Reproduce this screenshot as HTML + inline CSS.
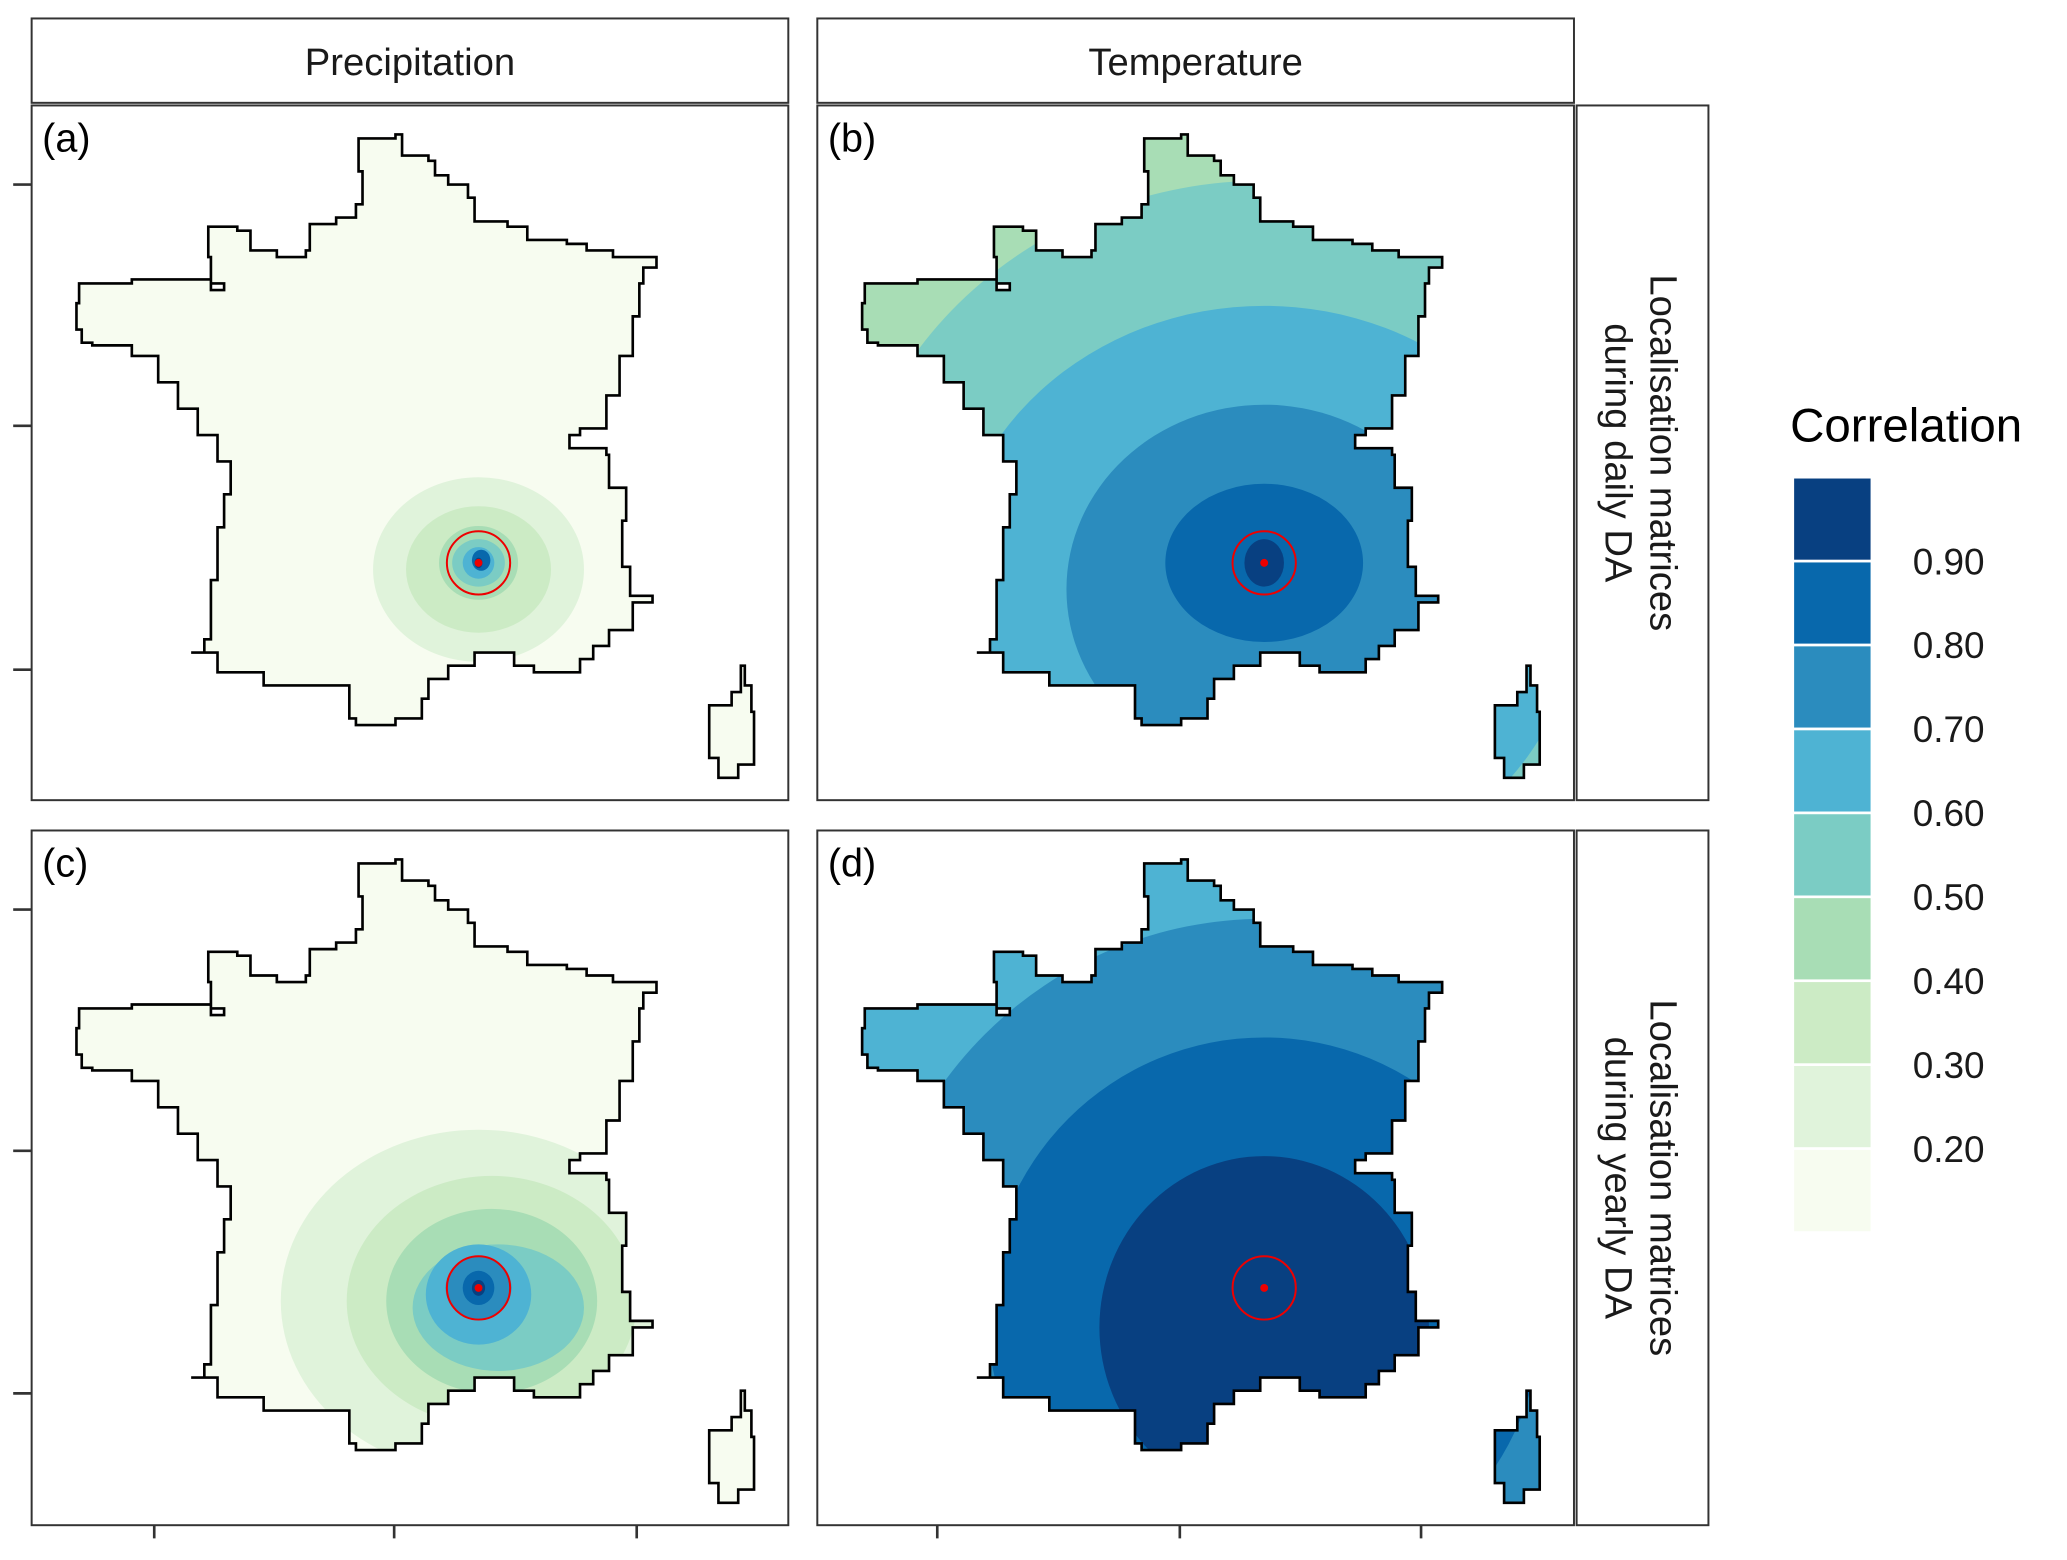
<!DOCTYPE html>
<html><head><meta charset="utf-8"><style>
html,body{margin:0;padding:0;background:#fff;overflow:hidden;width:2067px;height:1560px}
svg{display:block;font-family:"Liberation Sans",Arial,sans-serif}
</style></head><body>
<svg id="fig" width="2067" height="1560" viewBox="0 0 1568 1183.4" xmlns="http://www.w3.org/2000/svg">
<defs>
<clipPath id="fr"><path id="frpath" d=""/></clipPath>
</defs>
<g id="root"></g>
</svg>
<script>
// Colour scale (GnBu, 9 bins) and legend labels
const binColors = ["#f7fcf0","#e0f3db","#ccebc5","#a8ddb5","#7bccc4","#4eb3d3","#2b8cbe","#0868ac","#084081"];
const legendLabels = ["0.90","0.80","0.70","0.60","0.50","0.40","0.30","0.20"];
const colLabels = ["Precipitation","Temperature"];
const rowLabels = [["Localisation matrices","during daily DA"],["Localisation matrices","during yearly DA"]];
const panelTags = ["(a)","(b)","(c)","(d)"];
// Correlation zones per panel: base bin, then rings as [dx, dy, rx, ry, bin] around the target point
const baseA = 0, baseB = 3, baseC = 0, baseD = 5;
const ringsA = [[0,5,80,70,1],[0,5,55,48,2],[0,0,30,28,3],[0,0,20,18,4],[0,0,12,12,5],[2,-2,7,8,7],[0,0,3,4,8]];
const ringsB = [[0,10,320,300,4],[0,25,240,220,5],[0,20,150,140,6],[0,0,75,60,7],[0,0,15,18,8]];
const ringsC = [[0,10,150,130,1],[10,10,110,95,2],[10,10,80,70,3],[15,15,65,48,4],[0,5,40,38,5],[0,0,25,24,6],[0,0,12,13,7],[0,0,5,6,8]];
const ringsD = [[0,20,300,300,6],[0,20,210,210,7],[0,30,125,130,8]];
const allRings = [ringsA,ringsB,ringsC,ringsD];
const allBases = [baseA,baseB,baseC,baseD];

// France outline in panel-(a) coordinates (shape data)
const france = [[300,102],[305,118],[325,122],[330,133],[340,140],[355,150],[360,168],[385,172],[400,182],[430,185],[445,190],[465,195],[498,203],[488,215],[485,240],[480,270],[470,300],[460,325],[440,330],[432,340],[460,345],[462,370],[475,395],[472,430],[478,452],[495,457],[480,478],[462,490],[450,500],[440,510],[405,505],[390,495],[360,505],[340,515],[325,530],[320,545],[300,550],[270,545],[265,520],[200,510],[165,495],[145,495],[155,485],[160,440],[165,400],[170,375],[175,350],[165,330],[150,310],[135,290],[120,270],[100,262],[70,260],[62,250],[58,230],[60,215],[100,212],[130,212],[160,220],[170,215],[160,195],[158,172],[180,175],[190,190],[210,195],[232,190],[235,170],[255,165],[270,155],[275,130],[272,105]];
const corsica = [[562,505],[565,520],[570,540],[572,580],[560,590],[545,575],[538,535],[555,525]];
const target = [363,427];

const NS="http://www.w3.org/2000/svg";
const root=document.getElementById('root');
function mk(tag,attrs,parent){const e=document.createElementNS(NS,tag);for(const k in attrs)e.setAttribute(k,attrs[k]);(parent||root).appendChild(e);return e;}
function stair(pts){let d="M"+pts[0][0]+","+pts[0][1];for(let i=1;i<=pts.length;i++){const p=pts[i%pts.length],q=pts[i-1];d+=" L"+p[0]+","+q[1]+" L"+p[0]+","+p[1];}return d+"Z";}
const shapeD = stair(france)+" "+stair(corsica);
document.getElementById('frpath').setAttribute('d',shapeD);

const panelX=[24,620], panelY=[80,630], pw=574, ph=527;
colLabels.forEach((t,i)=>{
  const r=mk('rect',{x:panelX[i],y:14,width:pw,height:64,fill:"#fff",stroke:"#333","stroke-width":1.5});
  
  
  const tx=mk('text',{x:panelX[i]+pw/2,y:57,"text-anchor":"middle","font-size":29,fill:"#1a1a1a"});
  tx.textContent=t;
  
  
});
rowLabels.forEach((t,j)=>{
  const r=mk('rect',{x:1196,y:panelY[j],width:100,height:ph,fill:"#fff",stroke:"#333","stroke-width":1.5});
  
  
  const cy=panelY[j]+ph/2;
  const g=mk('g',{transform:"translate(1246,"+cy+") rotate(90)"});
  t.forEach((line,k)=>{
    const tx=mk('text',{x:0,y:(k===0?-6:28),"text-anchor":"middle","font-size":29,fill:"#1a1a1a"},g);
    tx.textContent=line;
    
    
  });
});
for(let j=0;j<2;j++)for(let i=0;i<2;i++){
  const idx=j*2+i, ox=panelX[i]-24, oy=panelY[j]-80;
  const pr=mk('rect',{x:panelX[i],y:panelY[j],width:pw,height:ph,fill:"#fff",stroke:"#333","stroke-width":1.5});
  
  
  const g=mk('g',{transform:"translate("+ox+","+oy+")"});
  const cg=mk('g',{"clip-path":"url(#fr)"},g);
  const base=mk('rect',{x:40,y:95,width:540,height:500,fill:binColors[allBases[idx]]},cg);
  
  
  allRings[idx].forEach(r=>{
    const e=mk('ellipse',{cx:target[0]+r[0],cy:target[1]+r[1],rx:r[2],ry:r[3],fill:binColors[r[4]]},cg);
    
    
  });
  const ol=mk('path',{d:shapeD,fill:"none",stroke:"#000","stroke-width":2},g);
  
  
  const c=mk('circle',{cx:target[0],cy:target[1],r:24,fill:"none",stroke:"#e00","stroke-width":1.5},g);
  
  
  const d=mk('circle',{cx:target[0],cy:target[1],r:3,fill:"#e00"},g);
  
  
  const tg=mk('text',{x:panelX[i]+8,y:panelY[j]+35,"font-size":30,fill:"#000"});
  tg.textContent=panelTags[idx];
  
  
}
[140,323,508,690,873,1057].forEach(y=>{
  const t=mk('line',{x1:10,x2:24,y1:y,y2:y,stroke:"#333","stroke-width":2});
  
  
});
[117,299,483,711,895,1078].forEach(x=>{
  const t=mk('line',{x1:x,x2:x,y1:1157,y2:1167,stroke:"#333","stroke-width":2});
  
  
});
const lt=mk('text',{x:1358,y:335,"font-size":36,fill:"#000"});
lt.textContent="Correlation";


const kh=(935-362)/binColors.length;
binColors.slice().reverse().forEach((col,k)=>{
  const r=mk('rect',{x:1360,y:362+k*kh,width:60,height:kh,fill:col,stroke:"#fff","stroke-width":2});
  
  
});
legendLabels.forEach((l,k)=>{
  const t=mk('text',{x:1451,y:362+(k+1)*kh+10,"font-size":28,fill:"#1a1a1a"});
  t.textContent=l;
  
  
});
</script>
</body></html>
